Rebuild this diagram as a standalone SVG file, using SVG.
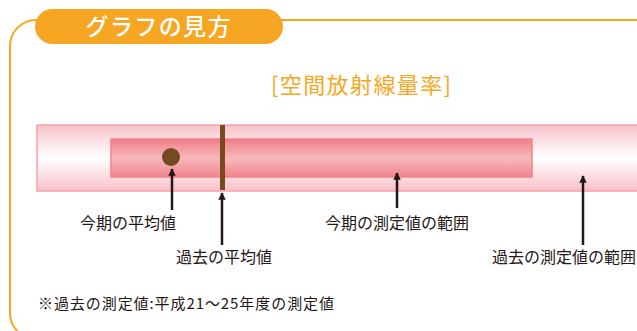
<svg xmlns="http://www.w3.org/2000/svg" width="637" height="331" viewBox="0 0 637 331">
<defs>
<linearGradient id="gOuter" x1="0" y1="0" x2="0" y2="1">
<stop offset="0" stop-color="#f8c2ca"/>
<stop offset="0.5" stop-color="#ffffff"/>
<stop offset="1" stop-color="#f8c0c8"/>
</linearGradient>
<linearGradient id="gInner" x1="0" y1="0" x2="0" y2="1">
<stop offset="0" stop-color="#f07d87"/>
<stop offset="0.5" stop-color="#f8b9bb"/>
<stop offset="1" stop-color="#f0858e"/>
</linearGradient>
<marker id="ah" viewBox="0 0 10 10" refX="9" refY="5" markerWidth="3" markerHeight="3.2" orient="auto" markerUnits="strokeWidth">
<path d="M0,0 L10,5 L0,10 Z" fill="#231815"/>
</marker>
<style>
.lbl{font-family:"Noto Sans CJK JP","Noto Sans CJK SC",sans-serif;font-size:16px;fill:#231815}
.note{font-family:"Noto Sans CJK JP","Noto Sans CJK SC",sans-serif;font-size:15px;fill:#231815}
.arr{stroke:#231815;stroke-width:2.5;fill:none;marker-end:url(#ah)}
</style>
</defs>
<g id="frame">
<rect x="10" y="20" width="700" height="319" rx="26" fill="none" stroke="#f6a623" stroke-width="2"/>
</g>
<g id="header">
<rect x="35" y="9" width="248" height="35" rx="17.5" fill="#f6a623"/>
<text x="158" y="35" text-anchor="middle" font-family="'Noto Sans CJK JP','Noto Sans CJK SC',sans-serif" font-size="23" font-weight="500" fill="#ffffff" textLength="145" lengthAdjust="spacing">グラフの見方</text>
</g>
<g id="title">
<text x="271" y="93" font-family="'Noto Sans CJK JP','Noto Sans CJK SC',sans-serif" font-size="22" fill="#f6a623" textLength="180" lengthAdjust="spacing">[空間放射線量率]</text>
</g>
<g id="past-range">
<rect x="37" y="125" width="620" height="66" fill="url(#gOuter)" stroke="#f5a3ab" stroke-width="1.5"/>
</g>
<g id="current-range">
<rect x="111" y="139" width="421" height="38" fill="url(#gInner)" stroke="#f0838b" stroke-width="1.5"/>
</g>
<g id="current-mean">
<circle cx="171" cy="157" r="9" fill="#734a22"/>
</g>
<g id="past-mean">
<rect x="220" y="125" width="5" height="65" fill="#7a4a1f"/>
</g>
<g id="connectors">
<line class="arr" x1="172" y1="210" x2="172" y2="169"/>
<line class="arr" x1="222" y1="245" x2="222" y2="193"/>
<line class="arr" x1="397" y1="208" x2="397" y2="173"/>
<line class="arr" x1="583" y1="245" x2="583" y2="176"/>
</g>
<g id="labels">
<text class="lbl" x="80" y="229">今期の平均値</text>
<text class="lbl" x="176" y="263">過去の平均値</text>
<text class="lbl" x="325" y="229">今期の測定値の範囲</text>
<text class="lbl" x="492" y="263">過去の測定値の範囲</text>
<text class="note" x="38" y="309" textLength="296" lengthAdjust="spacing">※過去の測定値:平成21～25年度の測定値</text>
</g>
</svg>
